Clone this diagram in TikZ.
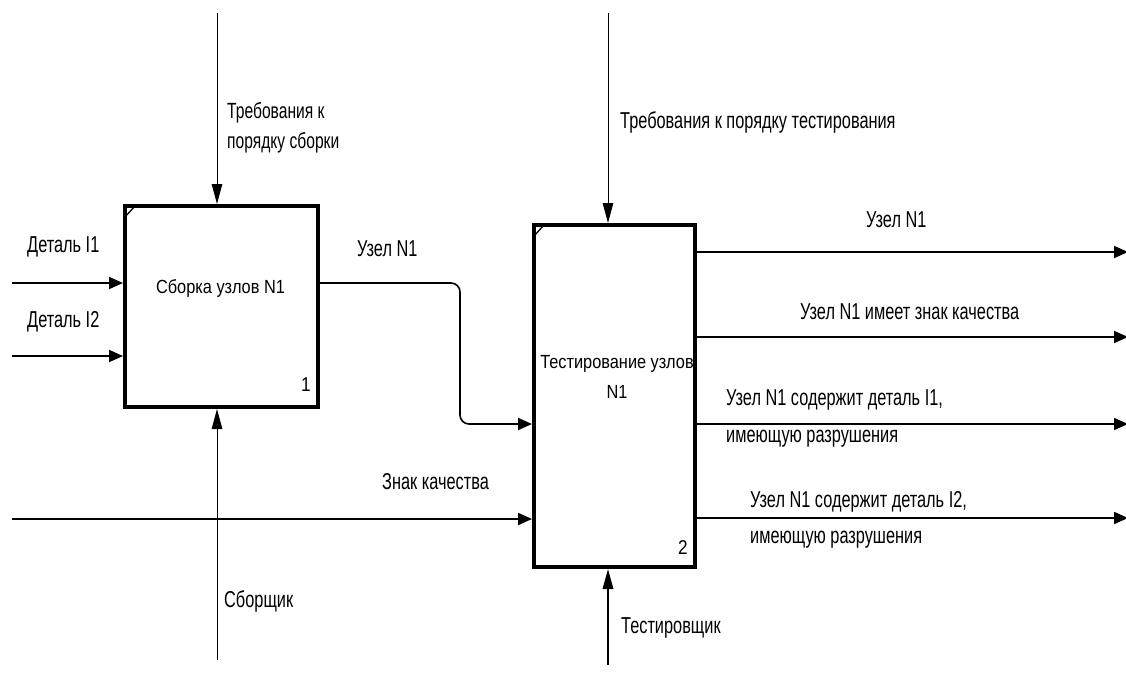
\documentclass[tikz,border=0pt]{standalone}
\usepackage{fontspec}
\setmainfont{Liberation Sans}[FakeStretch=0.71]
\newfontfamily\boxfont{Liberation Sans}[FakeStretch=0.86]
\usetikzlibrary{arrows.meta,calc}
\tikzset{
  fbox/.style={draw, line width=4pt, fill=white, inner sep=0pt},
  vtip/.style={-{Triangle[length=20pt,width=10.5pt]}},
  htip/.style={-{Triangle[length=14pt,width=12pt]}},
  ctl/.style={line width=1pt, vtip},
  mech/.style={line width=1.8pt, vtip},
  arr/.style={line width=1.8pt, htip},
  tick/.style={line width=1.3pt},
  lbl/.style={inner sep=0pt, font=\fontsize{23}{30}\selectfont, align=left},
  btxt/.style={inner sep=0pt, font=\boxfont\fontsize{19}{30}\selectfont, align=center},
  num/.style={inner sep=0pt, font=\boxfont\fontsize{20}{20}\selectfont},
}
\begin{document}
\begin{tikzpicture}[x=1pt,y=-1pt]
\useasboundingbox (0,0) rectangle (1126,678);
\fill[white] (0,0) rectangle (1126,678);
% boxes
\node[fbox, minimum width=193pt, minimum height=201pt] (b1) at (221.5,306.5) {};
\node[fbox, minimum width=161pt, minimum height=342pt] (b2) at (614.5,396) {};
\draw[tick] ($(b1.north west)+(2,13)$) -- ($(b1.north west)+(12,2)$);
\draw[tick] ($(b2.north west)+(2,13)$) -- ($(b2.north west)+(12,2)$);
\node[btxt] (t1) at (220.5,288) {Сборка узлов N1};
\node[btxt] (t2) at (617,377) {Тестирование узлов\\N1};
\node[num] (n1) at (306,385) {1};
\node[num] (n2) at (683,548) {2};
% coordinates
\coordinate (c1) at (217,13);
\coordinate (c2) at (608,13);
\coordinate (i1) at (12,283);
\coordinate (i2) at (12,356);
\coordinate (iq) at (12,519);
\coordinate (m1) at (217,660);
\coordinate (m2) at (608,665);
\coordinate (bend) at (460,424);
\coordinate (o1) at (1128,252);
\coordinate (o2) at (1128,337);
\coordinate (o3) at (1128,424);
\coordinate (o4) at (1128,518);
% connectors
\draw[ctl] (c1) -- (c1 |- b1.north);
\draw[ctl] (c2) -- (c2 |- b2.north);
\draw[arr] (i1) -- (i1 -| b1.west);
\draw[arr] (i2) -- (i2 -| b1.west);
\draw[arr, line width=1.6pt, rounded corners=9pt] (i1 -| b1.east) -- (i1 -| bend) -- (bend) -- (bend -| b2.west);
\draw[arr] (iq) -- (iq -| b2.west);
\draw[ctl] (m1) -- (m1 |- b1.south);
\draw[mech] (m2) -- (m2 |- b2.south);
\draw[arr] (o1 -| b2.east) -- (o1);
\draw[arr] (o2 -| b2.east) -- (o2);
\draw[arr] (o3 -| b2.east) -- (o3);
\draw[arr] (o4 -| b2.east) -- (o4);
% labels
\node[lbl, anchor=west] (l1) at (27,247) {Деталь I1};
\node[lbl, anchor=west] (l2) at (27,322) {Деталь I2};
\node[lbl, anchor=west] (l3) at (357,249) {Узел N1};
\node[lbl, anchor=west, font=\fontsize{22}{30}\selectfont] (l4) at (227,128) {Требования к\\порядку сборки};
\node[lbl, anchor=west] (l5) at (620,122) {Требования к порядку тестирования};
\node[lbl, anchor=west] (l6) at (382,482) {Знак качества};
\node[lbl, anchor=west] (l7) at (224,601) {Сборщик};
\node[lbl, anchor=west] (l8) at (621,628) {Тестировщик};
\node[lbl, anchor=west] (l9) at (866,220) {Узел N1};
\node[lbl, anchor=west] (l10) at (800,312) {Узел N1 имеет знак качества};
\node[lbl, anchor=west, font=\fontsize{23}{37}\selectfont] (l11) at (726,418.5) {Узел N1 содержит деталь I1,\\имеющую разрушения};
\node[lbl, anchor=west, font=\fontsize{23}{36}\selectfont] (l12) at (750,520) {Узел N1 содержит деталь I2,\\имеющую разрушения};
\end{tikzpicture}
\end{document}
